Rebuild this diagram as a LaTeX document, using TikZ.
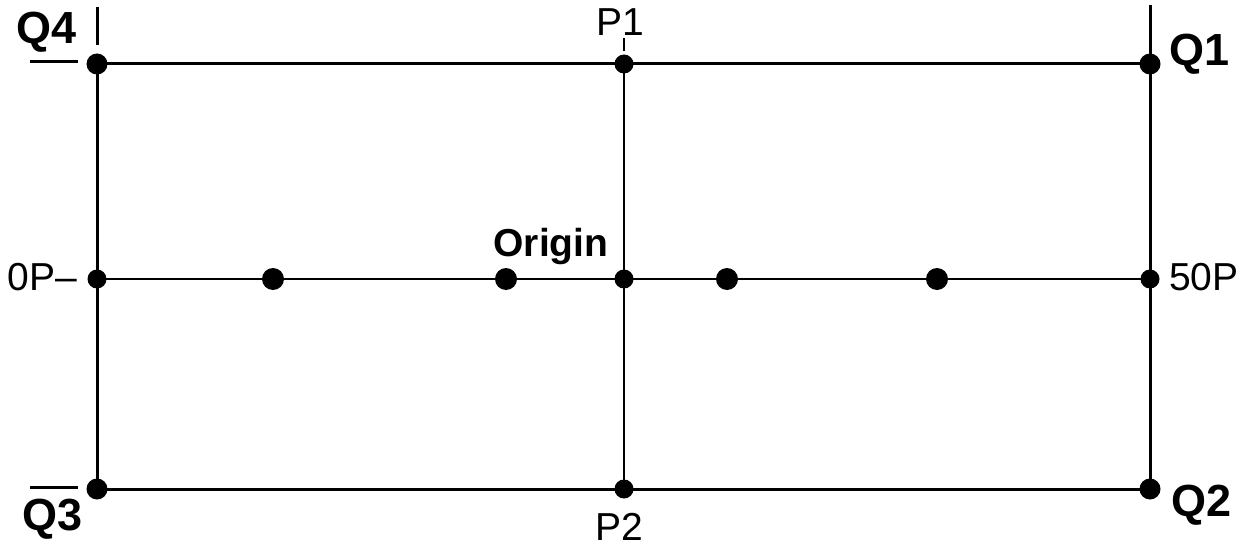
\documentclass[tikz,border=0pt]{standalone}
\usepackage{fontspec}
\setmainfont{Liberation Sans}
\begin{document}
\begin{tikzpicture}[x=1pt,y=-1pt,
  thickline/.style={line width=3pt},
  thinline/.style={line width=2pt},
  bigdot/.style={circle,fill=black,inner sep=0pt,minimum size=21pt},
  middot/.style={circle,fill=black,inner sep=0pt,minimum size=19pt},
  lbl/.style={inner sep=0pt,font=\fontsize{39}{43}\selectfont},
  qlbl/.style={inner sep=0pt,font=\fontsize{45}{50}\selectfont\bfseries}]
\useasboundingbox (0,0) rectangle (1242,548);
% points
\coordinate (q4) at (97,64);
\coordinate (p1) at (624,64);
\coordinate (q1) at (1150,64);
\coordinate (l) at (97,279);
\coordinate (a) at (273,279);
\coordinate (b) at (506,279);
\coordinate (o) at (624,279);
\coordinate (c) at (727,279);
\coordinate (d) at (937,279);
\coordinate (r) at (1150,279);
\coordinate (q3) at (97,489);
\coordinate (p2) at (624,489);
\coordinate (q2) at (1150,489);
% tick ends
\coordinate (t4a) at (97,7);
\coordinate (t4b) at (97,45);
\coordinate (t1a) at (1150,5);
\coordinate (tp1a) at (624,38);
\coordinate (tp1b) at (624,51);
\coordinate (h4a) at (30,62);
\coordinate (h4b) at (78,62);
\coordinate (h3a) at (30,487);
\coordinate (h3b) at (78,487);
% lines
\draw[thickline] (q4) -- (q1);
\draw[thickline] (q3) -- (q2);
\draw[thickline] (q4) -- (q3);
\draw[thickline] (t1a) -- (q1) -- (q2);
\draw[thinline] (p1) -- (p2);
\draw[thinline] (l) -- (r);
\draw[thickline] (t4a) -- (t4b);
\draw[thinline] (tp1a) -- (tp1b);
\draw[thickline] (h4a) -- (h4b);
\draw[thickline] (h3a) -- (h3b);
% dots
\node[bigdot] (Dq4) at (q4) {};
\node[middot] (Dp1) at (p1) {};
\node[bigdot] (Dq1) at (q1) {};
\node[middot] (Dl) at (l) {};
\node[bigdot,minimum size=22pt] (Da) at (a) {};
\node[bigdot,minimum size=22pt] (Db) at (b) {};
\node[middot] (Do) at (o) {};
\node[bigdot,minimum size=22pt] (Dc) at (c) {};
\node[bigdot,minimum size=22pt] (Dd) at (d) {};
\node[middot] (Dr) at (r) {};
\node[bigdot] (Dq3) at (q3) {};
\node[middot] (Dp2) at (p2) {};
\node[bigdot] (Dq2) at (q2) {};
% labels
\node[qlbl,anchor=base] (Lq4) at (47,44) {Q4};
\node[lbl,anchor=base] (Lp1) at (620,36) {P1};
\node[qlbl,anchor=base] (Lq1) at (1199,66) {Q1};
\node[lbl,anchor=base east] (Ll) at (77,290) {0P–};
\node[lbl,anchor=base west] (Lr) at (1169,290) {50P};
\node[qlbl,anchor=base] (Lq3) at (53,530) {Q3};
\node[lbl,anchor=base] (Lp2) at (619,540) {P2};
\node[qlbl,anchor=base] (Lq2) at (1201,516) {Q2};
\node[lbl,font=\fontsize{39}{43}\selectfont\bfseries,anchor=base] (Lo) at (551,256) {Origin};
\end{tikzpicture}
\end{document}
